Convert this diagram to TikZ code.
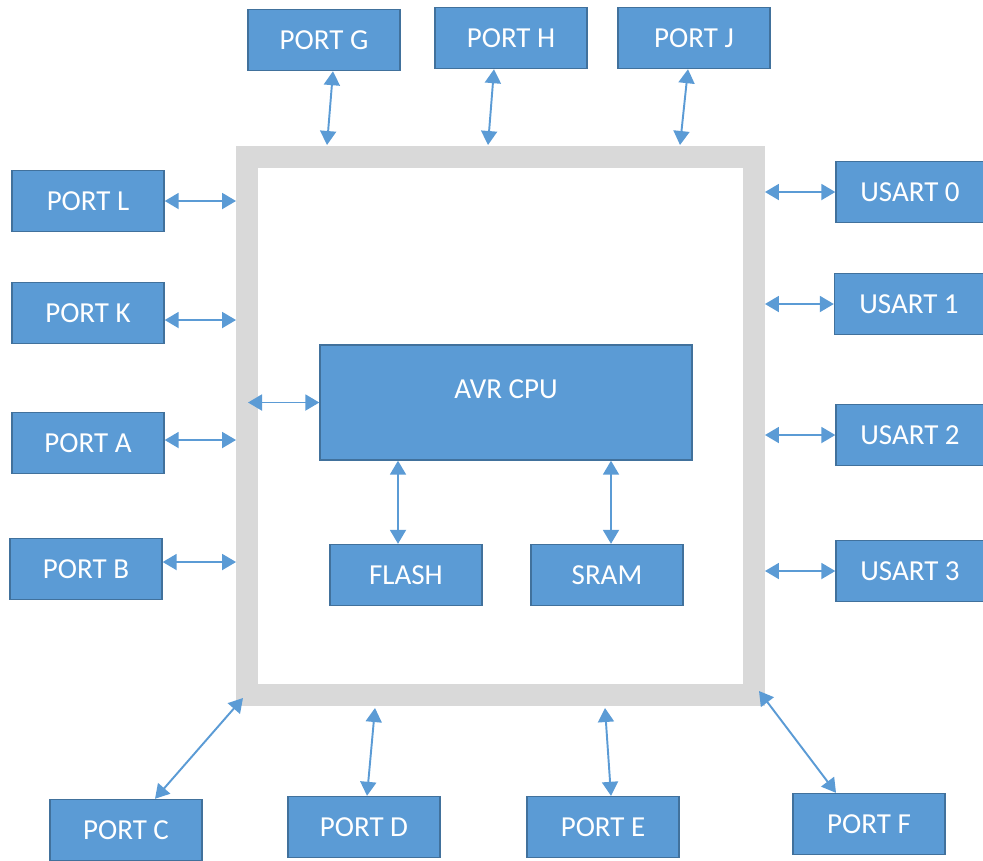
\documentclass[tikz,border=0pt]{standalone}
\usepackage{fontspec}
\setmainfont{Carlito}
\usetikzlibrary{arrows.meta}
\usepackage{xcolor}
\definecolor{boxblue}{HTML}{5B9BD5}
\definecolor{boxedge}{HTML}{41719C}
\definecolor{framegray}{HTML}{D9D9D9}

\begin{document}
\begin{tikzpicture}[x=0.02cm, y=-0.02cm]
  \tikzset{
    block/.style={
      draw=boxedge,
      fill=boxblue,
      text=white,
      line width=0.8pt,
      minimum width=3.04cm,
      minimum height=1.22cm,
      inner sep=0pt,
      font=\fontsize{16.5}{19}\selectfont,
    },
    chip/.style={
      draw=framegray,
      line width=0.44cm,
      minimum width=10.14cm,
      minimum height=10.78cm,
    },
    link/.style={
      boxblue,
      line width=1.1pt,
      {Triangle[length=0.28cm, width=0.32cm]}-{Triangle[length=0.28cm, width=0.32cm]},
    }
  }
  \useasboundingbox (0,0) rectangle (983,860);

  % Chip outline
  \node[chip] (chip) at (500.5,426) {};

  % Inside the chip
  \node[block, minimum width=7.44cm, minimum height=2.3cm, text depth=0.55cm] (cpu) at (506,402.5) {AVR CPU};
  \node[block] (flash) at (406,575) {FLASH};
  \node[block] (sram) at (607,575) {SRAM};

  % Ports on top
  \node[block] (portG) at (324,40) {PORT G};
  \node[block] (portH) at (511,38) {PORT H};
  \node[block] (portJ) at (694,38) {PORT J};

  % Ports on the left
  \node[block] (portL) at (88,201) {PORT L};
  \node[block] (portK) at (88,313) {PORT K};
  \node[block] (portA) at (88,443) {PORT A};
  \node[block] (portB) at (86,569) {PORT B};

  % USARTs on the right
  \node[block, minimum width=2.96cm] (usart0) at (910,192) {USART 0};
  \node[block, minimum width=2.98cm] (usart1) at (909,304) {USART 1};
  \node[block, minimum width=2.96cm] (usart2) at (910,435) {USART 2};
  \node[block, minimum width=2.96cm] (usart3) at (910,571) {USART 3};

  % Ports at the bottom
  \node[block] (portC) at (126,830) {PORT C};
  \node[block] (portD) at (364,827) {PORT D};
  \node[block] (portE) at (603,827) {PORT E};
  \node[block] (portF) at (869,824) {PORT F};

  % Points on the chip outline
  \coordinate (g) at (327,145);
  \coordinate (h) at (488,145);
  \coordinate (j) at (680,145);
  \coordinate (d) at (375,708);
  \coordinate (e) at (605,708);
  \coordinate (c) at (243,698);
  \coordinate (f) at (759,691);
  \coordinate (bus) at (248,402.5);

  % Links
  \draw[link] ([xshift=0.18cm]portG.south) -- (g);
  \draw[link] ([xshift=-0.34cm]portH.south) -- (h);
  \draw[link] ([xshift=-0.12cm]portJ.south) -- (j);

  \draw[link] (portL.east) -- (portL.east -| chip.west);
  \draw[link] ([yshift=-0.14cm]portK.east) -- ([yshift=-0.14cm]portK.east -| chip.west);
  \draw[link] ([yshift=0.06cm]portA.east) -- ([yshift=0.06cm]portA.east -| chip.west);
  \draw[link] ([yshift=0.14cm]portB.east) -- ([yshift=0.14cm]portB.east -| chip.west);

  \draw[link] (usart0.west) -- (usart0.west -| chip.east);
  \draw[link] (usart1.west) -- (usart1.west -| chip.east);
  \draw[link] (usart2.west) -- (usart2.west -| chip.east);
  \draw[link] (usart3.west) -- (usart3.west -| chip.east);

  \draw[link] ([xshift=0.58cm]portC.north) -- (c);
  \draw[link] ([xshift=0.06cm]portD.north) -- (d);
  \draw[link] ([xshift=0.16cm]portE.north) -- (e);
  \draw[link] ([xshift=-0.66cm]portF.north) -- (f);

  \draw[link] (bus) -- (cpu.west);
  \draw[link] ([xshift=-0.16cm]flash.north) -- ([xshift=-0.16cm]flash.north |- cpu.south);
  \draw[link] ([xshift=0.08cm]sram.north) -- ([xshift=0.08cm]sram.north |- cpu.south);
\end{tikzpicture}
\end{document}
